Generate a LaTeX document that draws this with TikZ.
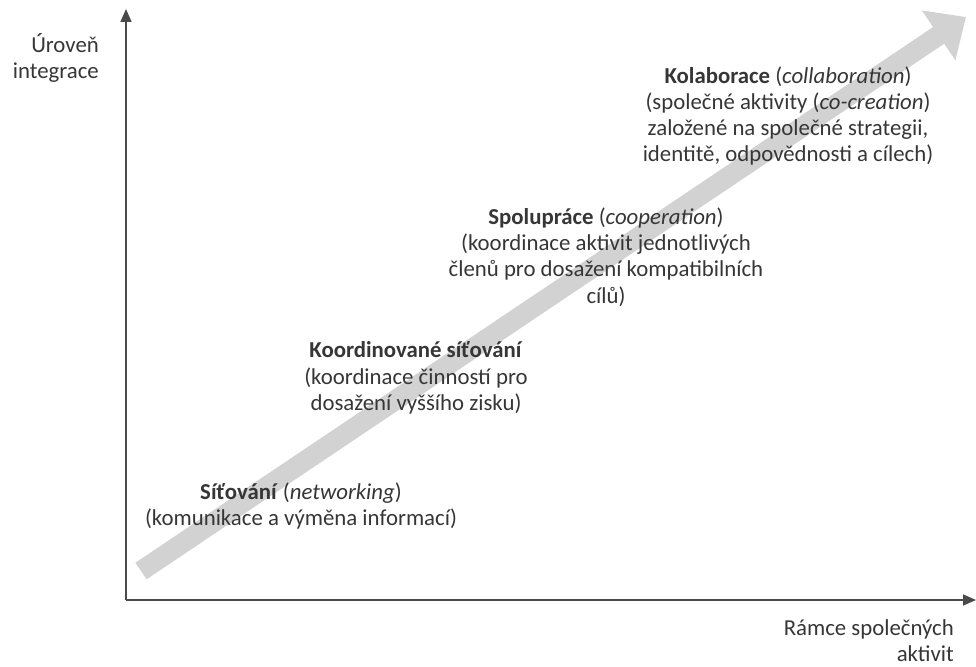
\documentclass[tikz,border=0pt]{standalone}
\usepackage{fontspec}
\setmainfont{Carlito}
\usetikzlibrary{arrows.meta}
\definecolor{txt}{HTML}{363636}
\definecolor{axis}{HTML}{4A4A4A}
\definecolor{band}{HTML}{D2D2D2}
\begin{document}
\begin{tikzpicture}[x=1pt,y=-1pt,
  lbl/.style={align=center,text=txt,font=\fontsize{22.8}{26.3}\selectfont,inner sep=0pt},
  axlbl/.style={align=right,text=txt,font=\fontsize{22.8}{26.3}\selectfont,inner sep=0pt,anchor=east},
  axisline/.style={draw=axis,line width=1.6pt,-{Triangle[length=13pt,width=11pt]}},
  bigarrow/.style={draw=band,line width=20pt,-{Triangle[length=33pt,width=58pt]}}]
\useasboundingbox (0,0) rectangle (976,666);
% big gray arrow
\coordinate (tail) at (141,571);
\coordinate (tip) at (966,17);
\draw[bigarrow] (tail) -- (tip);
% axes
\coordinate (O) at (126,600);
\coordinate (ytop) at (126,9);
\coordinate (xend) at (976,600);
\draw[axisline] (O) -- (ytop);
\draw[axisline] (O) -- (xend);
% axis labels
\node[axlbl] (ylab) at (99,58) {Úroveň\\integrace};
\node[axlbl] (xlab) at (954,641) {Rámce společných\\aktivit};
% stage labels
\node[lbl] (kol) at (788,116) {\textbf{Kolaborace} (\textit{collaboration})\\(společné aktivity (\textit{co-creation})\\založené na společné strategii,\\identitě, odpovědnosti a cílech)};
\node[lbl] (spo) at (606,257) {\textbf{Spolupráce} (\textit{cooperation})\\(koordinace aktivit jednotlivých\\členů pro dosažení kompatibilních\\cílů)};
\node[lbl] (koo) at (416,378) {\textbf{Koordinované síťování}\\(koordinace činností pro\\dosažení vyššího zisku)};
\node[lbl] (sit) at (301,506) {\textbf{Síťování} (\textit{networking})\\(komunikace a výměna informací)};
\end{tikzpicture}
\end{document}
